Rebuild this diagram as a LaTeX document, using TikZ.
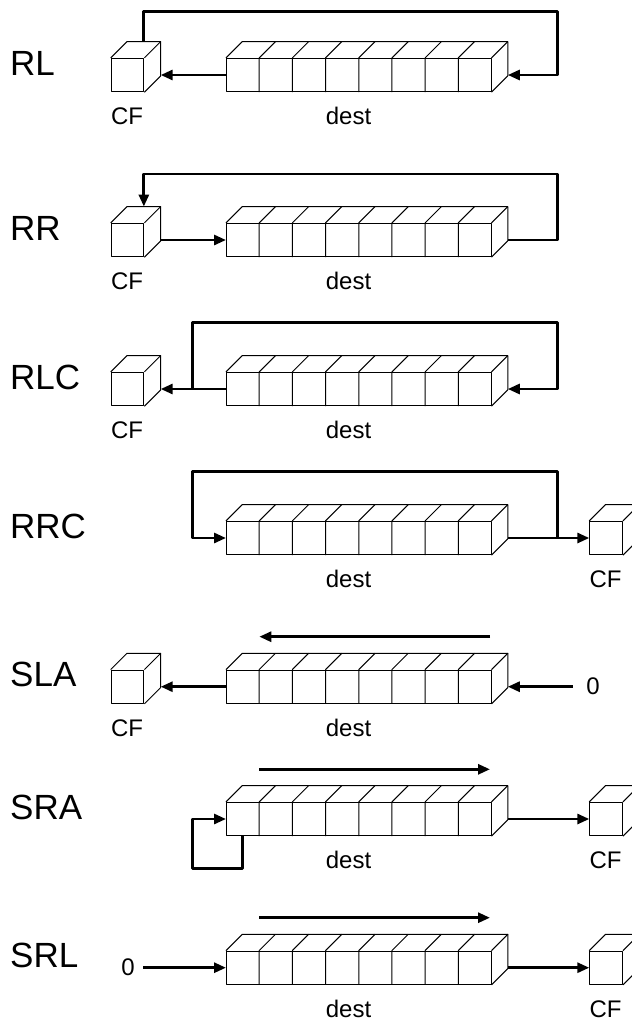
\documentclass[tikz,border=0pt]{standalone}
\usepackage{fontspec}
\setmainfont{Liberation Sans}
\usetikzlibrary{arrows.meta,calc}
\tikzset{
  boxline/.style={line width=1pt, line join=round},
  conn/.style={line width=2.8pt, line join=round, -{Triangle[length=12pt,width=10pt]}},
  regbox/.style={draw, boxline, minimum width=264.5pt, minimum height=33.3pt, inner sep=0pt, anchor=west},
  cfbox/.style={draw, boxline, minimum width=32.7pt, minimum height=33.3pt, inner sep=0pt, anchor=west},
  oplab/.style={font=\fontsize{35}{40}\selectfont, anchor=base west, inner sep=0pt},
  sublab/.style={font=\fontsize{24}{28}\selectfont, anchor=base, inner sep=0pt},
  zerolab/.style={font=\fontsize{24}{28}\selectfont, inner sep=0pt},
}
\newcommand\DrawDepth[1]{%
  \draw[boxline] (#1.north west) -- ++(16.3,-16.3) -- ([shift={(16.3,-16.3)}]#1.north east)
     -- ([shift={(16.3,-16.3)}]#1.south east) -- (#1.south east);
  \draw[boxline] (#1.north east) -- ++(16.3,-16.3);
}
\newcommand\DrawCells[1]{%
  \foreach \i in {1,...,7}{%
    \draw[boxline] ($(#1.north west)!\i/8!(#1.north east)$) coordinate (tt)
       -- ($(#1.south west)!\i/8!(#1.south east)$) (tt) -- ++(16.3,-16.3);
  }%
}
\begin{document}
\begin{tikzpicture}[x=1pt,y=-1pt]
\useasboundingbox (0,0) rectangle (632,1021);
\clip (0,0) rectangle (632,1021);

% ---------- RL ----------
\node[oplab] (l1) at (10,75) {RL};
\node[cfbox] (c1) at (110.7,75) {};
\node[regbox] (d1) at (226,75) {};
\DrawDepth{c1}\DrawDepth{d1}\DrawCells{d1}
\node[sublab] (c1t) at (127,124.3) {CF};
\node[sublab] (d1t) at (348.5,124.3) {dest};
\draw[conn] (d1.west) -- ([xshift=16.3pt]c1.east);
\coordinate (r1) at (557.3,11.3);
\draw[conn] ([shift={(16.3,-16.3)}]c1.north) |- (r1) |- ([xshift=16.3pt]d1.east);

% ---------- RR ----------
\node[oplab] (l2) at (10,240) {RR};
\node[cfbox] (c2) at (110.7,240) {};
\node[regbox] (d2) at (226,240) {};
\DrawDepth{c2}\DrawDepth{d2}\DrawCells{d2}
\node[sublab] (c2t) at (127,289.3) {CF};
\node[sublab] (d2t) at (348.5,289.3) {dest};
\draw[conn] ([xshift=16.3pt]c2.east) -- (d2.west);
\coordinate (r2) at (557.3,174);
\draw[conn] ([xshift=16.3pt]d2.east) -| (r2) -| ([shift={(16.3,-16.3)}]c2.north);

% ---------- RLC ----------
\node[oplab] (l3) at (10,389) {RLC};
\node[cfbox] (c3) at (110.7,389) {};
\node[regbox] (d3) at (226,389) {};
\DrawDepth{c3}\DrawDepth{d3}\DrawCells{d3}
\node[sublab] (c3t) at (127,438.3) {CF};
\node[sublab] (d3t) at (348.5,438.3) {dest};
\draw[conn] (d3.west) -- ([xshift=16.3pt]c3.east);
\coordinate (j3) at (192.7,389);
\coordinate (r3) at (557.3,322.7);
\draw[conn] (j3) |- (r3) |- ([xshift=16.3pt]d3.east);

% ---------- RRC ----------
\node[oplab] (l4) at (10,538) {RRC};
\node[regbox] (d4) at (226,538) {};
\node[cfbox] (c4) at (589.3,538) {};
\DrawDepth{c4}\DrawDepth{d4}\DrawCells{d4}
\node[sublab] (d4t) at (348.5,587.3) {dest};
\node[sublab] (c4t) at (605.5,587.3) {CF};
\draw[conn] ([xshift=16.3pt]d4.east) -- (c4.west);
\coordinate (j4) at (557.3,538);
\coordinate (r4) at (192.7,471.7);
\draw[conn] (j4) |- (r4) |- (d4.west);

% ---------- SLA ----------
\node[oplab] (l5) at (10,686.7) {SLA};
\node[cfbox] (c5) at (110.7,686.7) {};
\node[regbox] (d5) at (226,686.7) {};
\DrawDepth{c5}\DrawDepth{d5}\DrawCells{d5}
\node[sublab] (c5t) at (127,736) {CF};
\node[sublab] (d5t) at (348.5,736) {dest};
\draw[conn] (d5.west) -- ([xshift=16.3pt]c5.east);
\node[zerolab] (z5) at (593,686.7) {0};
\draw[conn] ([xshift=-20.4pt]z5.center) -- ([xshift=16.3pt]d5.east);
\coordinate (s5a) at (490,636.7);
\coordinate (s5b) at (259.3,636.7);
\draw[conn] (s5a) -- (s5b);

% ---------- SRA ----------
\node[oplab] (l6) at (10,819) {SRA};
\node[regbox] (d6) at (226,819) {};
\node[cfbox] (c6) at (589.3,819) {};
\DrawDepth{c6}\DrawDepth{d6}\DrawCells{d6}
\node[sublab] (d6t) at (348.5,868.3) {dest};
\node[sublab] (c6t) at (605.5,868.3) {CF};
\draw[conn] ([xshift=16.3pt]d6.east) -- (c6.west);
\coordinate (b6) at (192.7,868.3);
\draw[conn] ($(d6.south west)!0.0625!(d6.south east)$) |- (b6) |- (d6.west);
\coordinate (s6a) at (259.3,769.3);
\coordinate (s6b) at (490,769.3);
\draw[conn] (s6a) -- (s6b);

% ---------- SRL ----------
\node[oplab] (l7) at (10,967.7) {SRL};
\node[regbox] (d7) at (226,967.7) {};
\node[cfbox] (c7) at (589.3,967.7) {};
\DrawDepth{c7}\DrawDepth{d7}\DrawCells{d7}
\node[sublab] (d7t) at (348.5,1017) {dest};
\node[sublab] (c7t) at (605.5,1017) {CF};
\draw[conn] ([xshift=16.3pt]d7.east) -- (c7.west);
\node[zerolab] (z7) at (128,967.7) {0};
\draw[conn] ([xshift=15pt]z7.center) -- (d7.west);
\coordinate (s7a) at (259.3,917.7);
\coordinate (s7b) at (490,917.7);
\draw[conn] (s7a) -- (s7b);
\end{tikzpicture}
\end{document}
